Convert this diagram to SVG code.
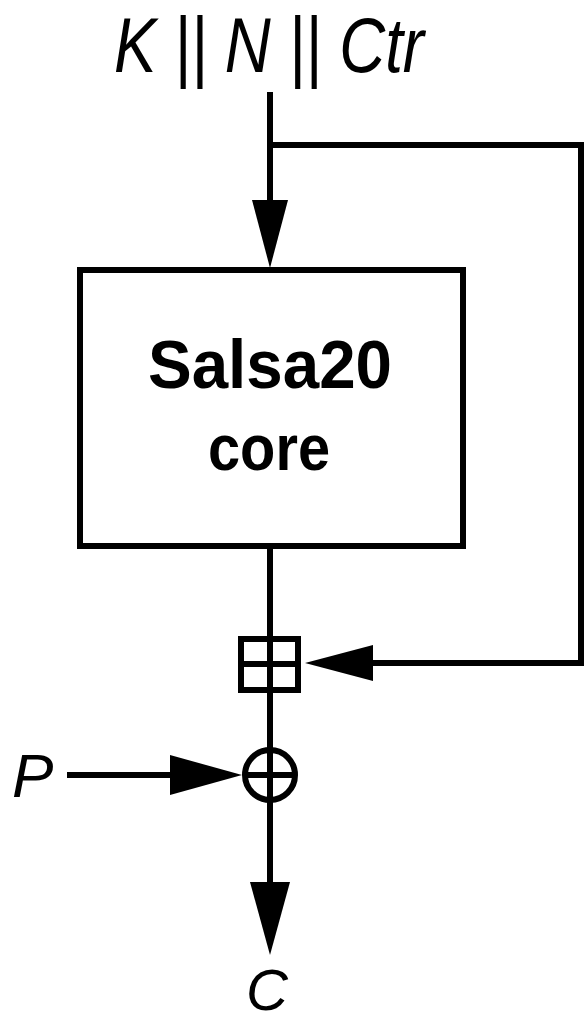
<svg xmlns="http://www.w3.org/2000/svg" width="585" height="1023" viewBox="0 0 585 1023">
<style>
.ln{fill:none;stroke:#000;stroke-width:6}
.ah{fill:#000;stroke:none}
.it{font-family:"Liberation Sans",Arial,sans-serif;font-style:italic;fill:#000}
.bd{font-family:"Liberation Sans",Arial,sans-serif;font-weight:bold;fill:#000;text-anchor:middle}
</style>
<rect width="585" height="1023" fill="#fff"/>
<g id="input-label"><text class="it" x="114" y="72" font-size="78" textLength="310" lengthAdjust="spacingAndGlyphs">K || N || Ctr</text></g>
<g id="connectors">
<path class="ln" d="M270,92 V205"/>
<path class="ah" d="M252,200 H288 L270,268 Z"/>
<path class="ln" d="M270,145 H581 V663 H370"/>
<path class="ah" d="M373,645 V681 L305,663 Z"/>
<path class="ln" d="M270,547 V640"/>
<path class="ln" d="M270,690 V750"/>
<path class="ln" d="M67,775 H175"/>
<path class="ah" d="M170,755 V795 L242,775 Z"/>
<path class="ln" d="M270,800 V890"/>
<path class="ah" d="M250,882 H290 L270,955 Z"/>
</g>
<g id="core"><rect class="ln" x="80" y="270" width="383" height="276"/>
<text class="bd" x="270" y="388" font-size="68" textLength="244" lengthAdjust="spacingAndGlyphs">Salsa20</text>
<text class="bd" x="269" y="470" font-size="64" textLength="122" lengthAdjust="spacingAndGlyphs">core</text></g>
<g id="add"><rect class="ln" x="241" y="639" width="57" height="51"/><path class="ln" d="M270,639 V690 M241,664 H298"/></g>
<g id="xor"><circle class="ln" cx="270" cy="775" r="25"/><path class="ln" d="M270,750 V800 M245,775 H295"/></g>
<g id="p-label"><text class="it" x="12" y="797" font-size="62">P</text></g>
<g id="c-label"><text class="it" x="246" y="1010" font-size="58">C</text></g>
</svg>
